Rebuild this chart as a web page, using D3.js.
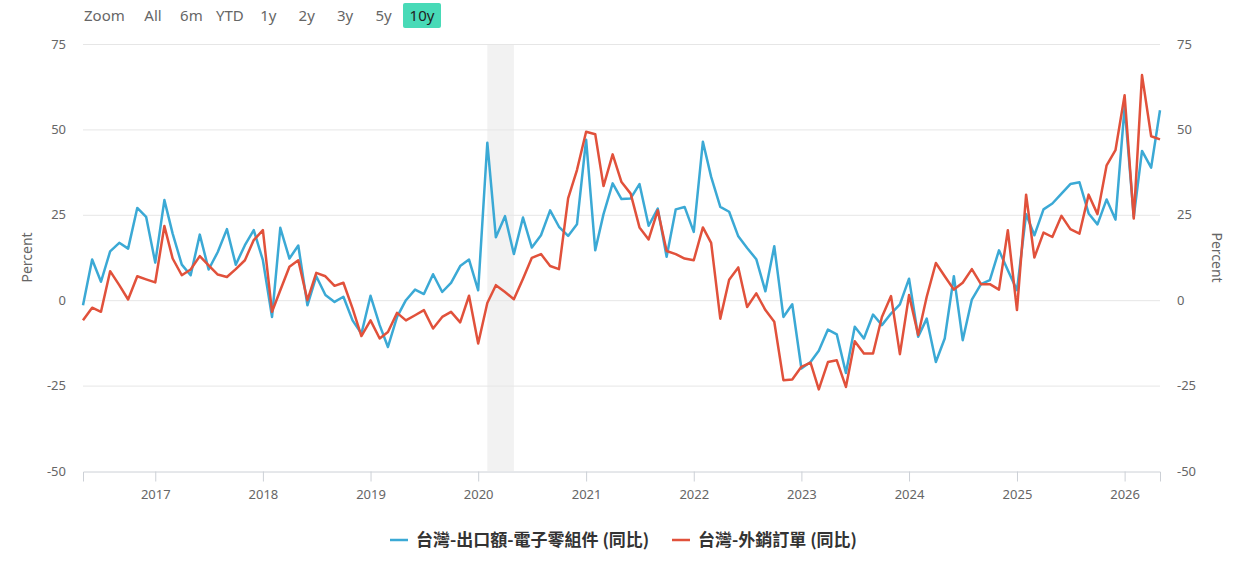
<!DOCTYPE html>
<html>
<head>
<meta charset="utf-8">
<script src="https://cdn.jsdelivr.net/npm/d3@7"></script>
<style>
  body { margin: 0; background: #fff; }
  svg { display: block; font-family: "Noto Sans", "Noto Sans CJK TC", sans-serif; }
</style>
</head>
<body>
<div id="chart"></div>
<script>
// monthly YoY series, first month 2016-05
const startMonth = '2016-05-01';
const exportElec = [
  -1.5, 11.9, 5.4, 14.3, 16.8, 15.1, 27.0, 24.4, 11.0, 29.3, 19.5, 10.4,
  7.3, 19.2, 9.0, 14.1, 20.8, 10.4, 16.1, 20.5, 11.7, -4.9, 21.2, 12.2,
  16.0, -1.5, 7.0, 1.5, -0.5, 1.0, -5.9, -9.8, 1.3, -7.3, -13.7, -4.9,
  0.0, 3.1, 1.8, 7.6, 2.4, 5.1, 10.0, 11.9, 2.9, 46.1, 18.4, 24.6,
  13.5, 24.2, 15.4, 19.0, 26.3, 21.5, 18.8, 22.2, 47.0, 14.6, 25.2, 34.2,
  29.6, 29.8, 34.0, 21.8, 26.8, 12.7, 26.6, 27.3, 20.0, 46.4, 36.1, 27.3,
  25.9, 18.7, 15.3, 12.0, 2.6, 15.8, -4.9, -1.2, -20.0, -18.1, -14.8, -8.6,
  -10.0, -21.3, -7.8, -11.2, -4.2, -7.3, -3.9, -1.2, 6.3, -10.7, -5.4, -18.1,
  -11.2, 7.0, -11.7, 0.2, 4.7, 5.9, 14.6, 8.8, 2.9, 25.2, 19.0, 26.6,
  28.3, 31.2, 34.0, 34.5, 25.4, 22.2, 29.5, 23.6, 56.6, 24.4, 43.7, 38.8,
  55.6
];
const exportOrders = [
  -5.9, -2.2, -3.4, 8.5, 4.4, 0.2, 7.0, 6.1, 5.2, 21.7, 12.2, 7.3,
  9.0, 12.9, 10.2, 7.5, 6.8, 9.1, 11.7, 17.6, 20.5, -3.4, 2.9, 9.8,
  11.7, 0.0, 8.0, 7.0, 4.2, 5.1, -2.4, -10.5, -5.9, -11.2, -9.3, -3.7,
  -5.9, -4.4, -2.9, -8.3, -4.9, -3.4, -6.5, 1.3, -12.7, -0.8, 4.4, 2.4,
  0.3, 6.3, 12.4, 13.5, 10.0, 9.1, 29.8, 38.1, 49.3, 48.6, 33.4, 42.7,
  34.6, 31.2, 21.3, 17.8, 26.3, 14.4, 13.5, 12.2, 11.7, 21.3, 16.8, -5.4,
  6.0, 9.6, -2.0, 2.0, -2.9, -6.3, -23.4, -23.2, -19.5, -18.3, -26.1, -18.1,
  -17.6, -25.4, -12.0, -15.6, -15.6, -4.9, 1.2, -15.8, 1.5, -10.2, 1.0, 10.9,
  7.0, 3.1, 5.1, 9.1, 4.7, 4.7, 3.1, 20.5, -2.9, 30.9, 12.5, 19.8,
  18.5, 24.7, 20.8, 19.5, 30.9, 25.2, 39.5, 43.9, 60.0, 23.9, 65.9, 48.0,
  47.1
];
const seriesNames = ['台灣-出口額-電子零組件 (同比)', '台灣-外銷訂單 (同比)'];
const seriesColors = ['#3ba9d5', '#e1513b'];
const yTicks = [-50, -25, 0, 25, 50, 75];
const zoomButtons = ['All', '6m', 'YTD', '1y', '2y', '3y', '5y', '10y'];
const shadedBand = ['2020-02-01', '2020-05-01'];

const W = 1238, H = 563;
const margin = {top: 44, right: 78, bottom: 92, left: 83};
const width = W - margin.left - margin.right;
const height = H - margin.top - margin.bottom;

const svg = d3.select('#chart').append('svg')
    .attr('width', W)
    .attr('height', H);

const start = new Date(startMonth + 'T00:00:00Z');
const dates = d3.range(exportElec.length).map(i => d3.utcMonth.offset(start, i));

const x = d3.scaleUtc()
    .domain([start, d3.utcMonth.offset(start, 120)])
    .range([margin.left, margin.left + width]);
const y = d3.scaleLinear()
    .domain([-50, 75])
    .range([margin.top + height, margin.top]);

// shaded period
svg.append('rect')
    .attr('x', x(new Date(shadedBand[0])))
    .attr('y', margin.top)
    .attr('width', x(new Date(shadedBand[1])) - x(new Date(shadedBand[0])))
    .attr('height', height)
    .attr('fill', '#f2f2f2');

// grid lines
svg.append('g').selectAll('line')
    .data(yTicks.filter(t => t !== -50))
    .enter().append('line')
    .attr('x1', margin.left)
    .attr('x2', margin.left + width)
    .attr('y1', d => y(d) + 0.5)
    .attr('y2', d => y(d) + 0.5)
    .attr('stroke', '#e6e6e6')
    .attr('stroke-width', 1);

// left axis labels
svg.append('g').selectAll('text')
    .data(yTicks)
    .enter().append('text')
    .attr('x', 66)
    .attr('y', d => y(d))
    .attr('dy', '0.35em')
    .attr('text-anchor', 'end')
    .attr('fill', '#666')
    .style('font-size', '13px')
    .text(d => d);

// right axis labels
svg.append('g').selectAll('text')
    .data(yTicks)
    .enter().append('text')
    .attr('x', 1177)
    .attr('y', d => y(d))
    .attr('dy', '0.35em')
    .attr('text-anchor', 'start')
    .attr('fill', '#666')
    .style('font-size', '13px')
    .text(d => d);

// axis titles
svg.append('text')
    .attr('transform', 'translate(32,' + (margin.top + height / 2) + ') rotate(-90)')
    .attr('text-anchor', 'middle')
    .attr('fill', '#666')
    .style('font-size', '14px')
    .text('Percent');
svg.append('text')
    .attr('transform', 'translate(1212,' + (margin.top + height / 2) + ') rotate(90)')
    .attr('text-anchor', 'middle')
    .attr('fill', '#666')
    .style('font-size', '14px')
    .text('Percent');

// x axis
let xAxis = d3.axisBottom(x)
    .ticks(d3.utcYear.every(1))
    .tickFormat(d3.utcFormat('%Y'))
    .tickSize(10)
    .tickPadding(8);

let xg = svg.append('g')
    .attr('transform', 'translate(0,' + (margin.top + height + 0.5) + ')')
    .call(xAxis);
xg.select('.domain').attr('stroke', '#ccd0d6');
xg.selectAll('.tick line').attr('stroke', '#ccd0d6');
xg.selectAll('.tick text')
    .attr('fill', '#666')
    .style('font-size', '13px')
    .style('font-family', '"Noto Sans", sans-serif');

// lines
let line = d3.line()
    .x((d, i) => x(dates[i]))
    .y(d => y(d));

[exportElec, exportOrders].forEach(function(values, k) {
    svg.append('path')
        .datum(values)
        .attr('d', line)
        .attr('fill', 'none')
        .attr('stroke', seriesColors[k])
        .attr('stroke-width', 2.5)
        .attr('stroke-linejoin', 'round');
});

// range selector
let zoomG = svg.append('g');
zoomG.append('text')
    .attr('x', 84)
    .attr('y', 21)
    .attr('fill', '#666')
    .style('font-size', '15px')
    .text('Zoom');
let btnCenters = d3.scalePoint()
    .domain(zoomButtons)
    .range([153, 422]);
zoomG.append('rect')
    .attr('x', btnCenters('10y') - 19)
    .attr('y', 3)
    .attr('width', 38)
    .attr('height', 25)
    .attr('rx', 2)
    .attr('fill', '#48dab7');
zoomG.selectAll('.btn')
    .data(zoomButtons)
    .enter().append('text')
    .attr('class', 'btn')
    .attr('x', d => btnCenters(d))
    .attr('y', 21)
    .attr('text-anchor', 'middle')
    .attr('fill', d => d === '10y' ? '#222' : '#666')
    .style('font-size', '15px')
    .text(d => d);

// legend
let legend = svg.append('g');
let legendX = [390, 672];
seriesNames.forEach(function(name, k) {
    legend.append('line')
        .attr('x1', legendX[k])
        .attr('x2', legendX[k] + 18)
        .attr('y1', 540)
        .attr('y2', 540)
        .attr('stroke', seriesColors[k])
        .attr('stroke-width', 2.5);
    legend.append('text')
        .attr('x', legendX[k] + 26)
        .attr('y', 540)
        .attr('dy', '0.35em')
        .attr('fill', '#333')
        .style('font-size', '17px')
        .style('font-weight', 'bold')
        .style('font-family', '"Noto Sans CJK TC", "Noto Sans", sans-serif')
        .text(name);
});
</script>
</body>
</html>
